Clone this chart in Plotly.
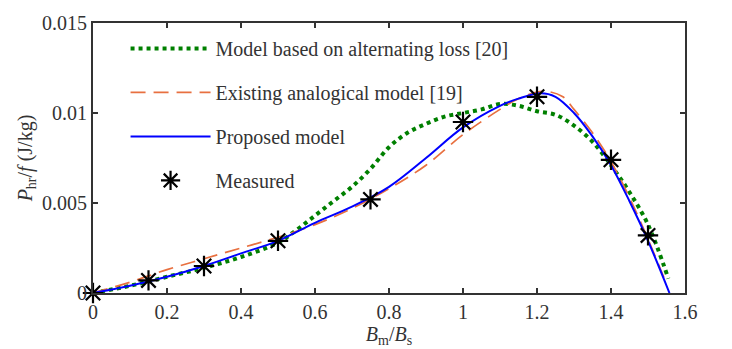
import plotly.graph_objects as go

# Measured data
meas_x = [0, 0.15, 0.3, 0.5, 0.75, 1.0, 1.2, 1.4, 1.5]
meas_y = [0, 0.0007, 0.0015, 0.0029, 0.0052, 0.0095, 0.0109, 0.0074, 0.0032]

# Proposed model (blue)
prop_x = [0, 0.1, 0.2, 0.3, 0.4, 0.5, 0.6, 0.7, 0.8, 0.9, 1.0, 1.1, 1.15, 1.21, 1.25, 1.3, 1.35, 1.4, 1.45, 1.5, 1.558]
prop_y = [0, 0.0004, 0.0009, 0.0015, 0.0022, 0.0029, 0.0039, 0.0048, 0.0059, 0.0075, 0.0092, 0.0104, 0.0108, 0.0111, 0.0109, 0.0100, 0.0087, 0.0071, 0.0051, 0.0029, 0.0]

# Existing analogical model [19] (red dashed)
exist_x = [0, 0.1, 0.2, 0.3, 0.4, 0.5, 0.6, 0.7, 0.8, 0.9, 1.0, 1.1, 1.15, 1.22, 1.27, 1.3, 1.35, 1.4, 1.45, 1.5, 1.55]
exist_y = [0, 0.0006, 0.0013, 0.0019, 0.0025, 0.0031, 0.0038, 0.0047, 0.0058, 0.0071, 0.0088, 0.0102, 0.0108, 0.0112, 0.0109, 0.0102, 0.0089, 0.0073, 0.0053, 0.0030, 0.0005]

# Model based on alternating loss [20] (green dotted)
alt_x = [0, 0.1, 0.2, 0.3, 0.4, 0.5, 0.55, 0.6, 0.65, 0.7, 0.75, 0.8, 0.85, 0.9, 0.95, 1.0, 1.05, 1.1, 1.15, 1.2, 1.25, 1.3, 1.35, 1.4, 1.45, 1.5, 1.555]
alt_y = [0, 0.0004, 0.0009, 0.0014, 0.0020, 0.0028, 0.0035, 0.0043, 0.0051, 0.0059, 0.0069, 0.0081, 0.0089, 0.0094, 0.0098, 0.0100, 0.0102, 0.0105, 0.0104, 0.0101, 0.0099, 0.0093, 0.0084, 0.0071, 0.0056, 0.0038, 0.0008]

x_ticks = [0, 0.2, 0.4, 0.6, 0.8, 1.0, 1.2, 1.4, 1.6]
x_tick_text = ["0", "0.2", "0.4", "0.6", "0.8", "1", "1.2", "1.4", "1.6"]
y_ticks = [0, 0.005, 0.01, 0.015]
y_tick_text = ["0", "0.005", "0.01", "0.015"]

FONT = "Liberation Serif, Times New Roman, serif"
FS = 20
TXT = "#333333"

fig = go.Figure()
fig.add_trace(go.Scatter(x=alt_x, y=alt_y, mode="lines", name="Model based on alternating loss [20]",
                         line=dict(color="#008000", width=4, dash="dot", shape="spline"),
                         legendgroup="a"))
fig.add_trace(go.Scatter(x=exist_x, y=exist_y, mode="lines", name="Existing analogical model [19]",
                         line=dict(color="#E87040", width=1.7, dash="15px,8px", shape="spline"),
                         legendgroup="b"))
fig.add_trace(go.Scatter(x=prop_x, y=prop_y, mode="lines", name="Proposed model",
                         line=dict(color="#0000FF", width=2, shape="spline"),
                         legendgroup="c"))
fig.add_trace(go.Scatter(x=meas_x, y=meas_y, mode="markers", name="Measured",
                         marker=dict(symbol="asterisk-open", size=17, color="black",
                                     line=dict(color="black", width=2.2)),
                         legendgroup="d", cliponaxis=False))

axis_common = dict(showline=True, linecolor="#333333", linewidth=2, mirror="ticks",
                   ticks="inside", ticklen=5, tickwidth=2, tickcolor="#333333",
                   showgrid=False, zeroline=False,
                   tickfont=dict(family=FONT, size=FS, color=TXT))

fig.update_layout(
    width=732, height=349,
    margin=dict(l=93, r=47, t=12, b=52),
    paper_bgcolor="white", plot_bgcolor="white",
    font=dict(family=FONT, size=FS, color=TXT),
    xaxis=dict(range=[0, 1.6], tickvals=x_ticks, ticktext=x_tick_text,
               title=dict(text="<i>B</i><sub>m</sub>/<i>B</i><sub>s</sub>", standoff=0,
                          font=dict(family=FONT, size=FS, color=TXT)),
               **axis_common),
    yaxis=dict(range=[0, 0.015], tickvals=y_ticks, ticktext=y_tick_text,
               title=dict(text="<i>P</i><sub>hr</sub>/<i>f</i> (J/kg)", standoff=4,
                          font=dict(family=FONT, size=FS, color=TXT)),
               **axis_common),
    legend=dict(x=0.055, y=0.978, xanchor="left", yanchor="top",
                bgcolor="rgba(0,0,0,0)", itemwidth=80, tracegroupgap=15,
                font=dict(family=FONT, size=FS, color=TXT)),
    showlegend=True,
)

fig.write_html("out.html", config={"displayModeBar": False},
               post_script="document.body.style.margin='0px';")
